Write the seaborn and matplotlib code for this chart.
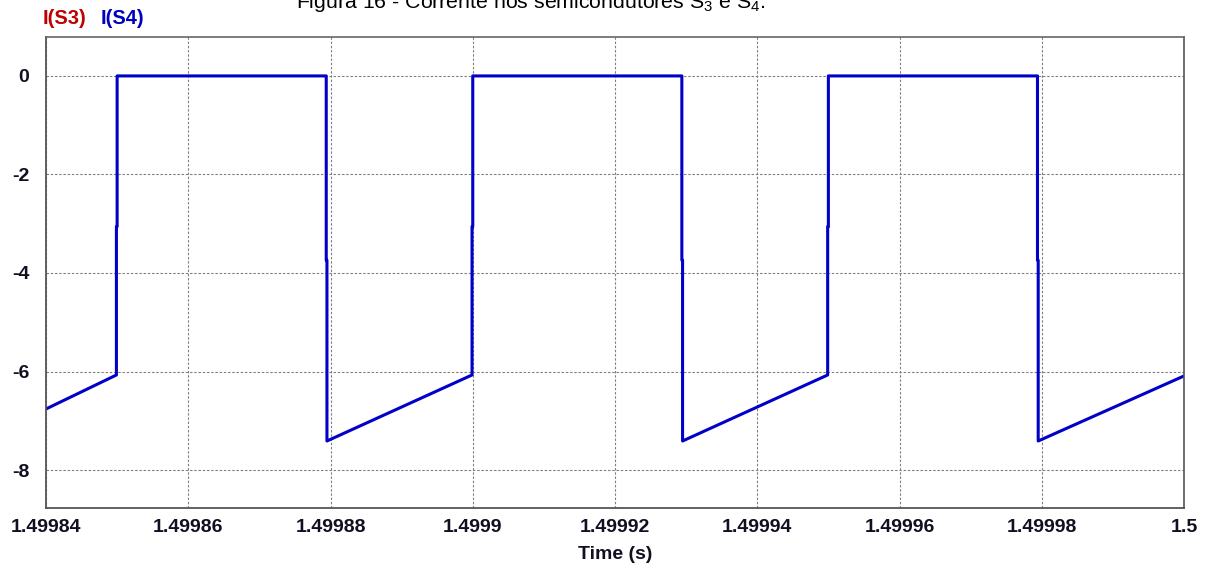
import matplotlib
matplotlib.use("Agg")
import matplotlib.pyplot as plt
import seaborn as sns
import pandas as pd

# Switch current I(S4) over the last three switching periods (time in s, current in A)
time_s = [1.49984, 1.4998499, 1.4998499, 1.49985, 1.49985,
          1.4998794, 1.4998794, 1.4998795, 1.4998795,
          1.4998999, 1.4998999, 1.4999, 1.4999,
          1.4999294, 1.4999294, 1.4999295, 1.4999295,
          1.4999499, 1.4999499, 1.49995, 1.49995,
          1.4999794, 1.4999794, 1.4999795, 1.4999795,
          1.5]
i_s4 = [-6.76, -6.07, -3.06, -3.06, 0.0,
        0.0, -3.74, -3.74, -7.41,
        -6.07, -3.06, -3.06, 0.0,
        0.0, -3.74, -3.74, -7.41,
        -6.07, -3.06, -3.06, 0.0,
        0.0, -3.74, -3.74, -7.41,
        -6.09]

x_ticks = [1.49984, 1.49986, 1.49988, 1.4999, 1.49992, 1.49994, 1.49996, 1.49998, 1.5]
x_labels = ["1.49984", "1.49986", "1.49988", "1.4999", "1.49992",
            "1.49994", "1.49996", "1.49998", "1.5"]
y_ticks = [0, -2, -4, -6, -8]
y_labels = ["0", "-2", "-4", "-6", "-8"]

sns.set_theme(style="white")
plt.rcParams["font.family"] = ["Liberation Sans", "DejaVu Sans"]
plt.rcParams["mathtext.fontset"] = "custom"
plt.rcParams["mathtext.rm"] = "Liberation Sans"
plt.rcParams["mathtext.it"] = "Liberation Sans:italic"

df = pd.DataFrame({"Time (s)": time_s, "I(S4)": i_s4})

W, H = 1205, 564
fig = plt.figure(figsize=(W / 100, H / 100), dpi=100)
fig.patch.set_facecolor("white")
left, right, top, bottom = 46, 1184, 37, 508
ax = fig.add_axes([left / W, 1 - bottom / H, (right - left) / W, (bottom - top) / H])

sns.lineplot(data=df, x="Time (s)", y="I(S4)", sort=False, estimator=None,
             color="#0000c8", linewidth=2.2, ax=ax, legend=False)

ax.set_xlim(1.49984, 1.5)
ax.set_ylim(-8.77, 0.79)

ax.set_xticks(x_ticks)
ax.set_xticklabels(x_labels)
ax.set_yticks(y_ticks)
ax.set_yticklabels(y_labels)

tick_color = "#101020"
ax.tick_params(axis="x", length=0, pad=8, labelsize=14, labelcolor=tick_color)
ax.tick_params(axis="y", length=0, pad=12, labelsize=14, labelcolor=tick_color)
for lbl in ax.get_xticklabels() + ax.get_yticklabels():
    lbl.set_fontweight("bold")

ax.grid(True, color="#808080", linestyle=(0, (2.2, 1.6)), linewidth=0.8)
ax.set_axisbelow(True)

for side in ["left", "bottom"]:
    ax.spines[side].set_color("#555555")
    ax.spines[side].set_linewidth(1.3)
ax.spines["top"].set_color("#666666")
ax.spines["top"].set_linewidth(1.2)
ax.spines["right"].set_color("#555555")
ax.spines["right"].set_linewidth(1.2)
ax.spines["right"].set_linestyle((0, (2, 1)))

ax.set_xlabel("Time (s)", fontsize=14, fontweight="bold", color=tick_color, labelpad=7)
ax.set_ylabel("")

# Series names shown above the plot
fig.text(43 / W, 1 - 18 / H, "I(S3)", color="#c00000", fontsize=14.5, fontweight="bold",
         ha="left", va="center")
fig.text(101 / W, 1 - 18 / H, "I(S4)", color="#0000c0", fontsize=14.5, fontweight="bold",
         ha="left", va="center")

# Caption, partially above the top edge
fig.text(296 / W, 1 - 8 / H, "Figura 16 - Corrente nos semicondutores S$_3$ e S$_4$.",
         fontsize=15.3, color="black", ha="left", va="baseline")

fig.savefig("out.png", dpi=100, facecolor="white")
